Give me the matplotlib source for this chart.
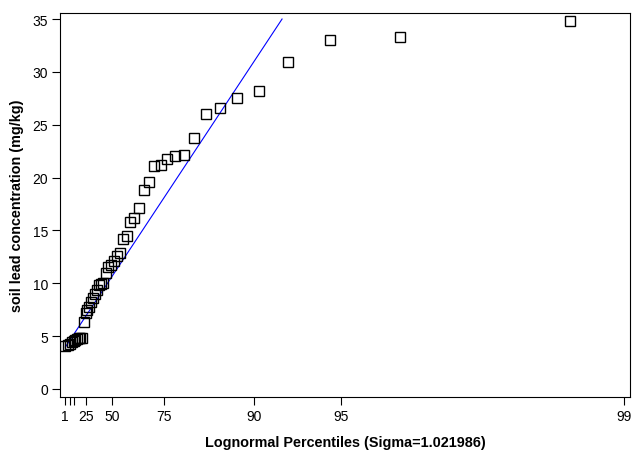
import numpy as np
import matplotlib
matplotlib.use("Agg")
import matplotlib.pyplot as plt
from statistics import NormalDist

# sorted soil lead concentrations (mg/kg)
lead = [4.1, 4.2, 4.3, 4.4, 4.5, 4.6, 4.7, 4.8, 4.8, 4.8,
        6.3, 7.2, 7.5, 7.8, 8.2, 8.6, 9.0, 9.4, 9.8, 9.9,
        10.0, 11.0, 11.5, 11.7, 12.1, 12.6, 12.9, 14.2, 14.5, 15.8,
        16.2, 17.1, 18.8, 19.6, 21.1, 21.2, 21.8, 22.0, 22.1, 23.7,
        26.0, 26.6, 27.5, 28.2, 30.9, 33.0, 33.3, 34.8]
sigma = 1.021986
theta = 3.2      # threshold of the fitted reference line
scale = 7.5      # exp(zeta) of the fitted reference line
tick_pct = [1, 5, 10, 25, 50, 75, 90, 95, 99]
tick_lbl = ['1', '', '', '25', '50', '75', '90', '95', '99']
y_ticks = [0, 5, 10, 15, 20, 25, 30, 35]

nd = NormalDist()
n = len(lead)
pp = [(i - 0.375) / (n + 0.25) for i in range(1, n + 1)]
xq = np.exp(sigma * np.array([nd.inv_cdf(p) for p in pp]))
xt = np.exp(sigma * np.array([nd.inv_cdf(p / 100) for p in tick_pct]))

plt.rcParams['font.family'] = ['Liberation Sans', 'DejaVu Sans']
fig = plt.figure(figsize=(6.4, 4.64), dpi=100)
ax = fig.add_axes([0.09375, 0.1422, 0.8903, 0.8276])

# reference line
x0 = xq[0]
x1 = (35 - theta) / scale
ax.plot([x0, x1], [theta + scale * x0, 35], color='blue', lw=0.8, zorder=2)

ax.plot(xq, lead, linestyle='none', marker='s', markersize=7, markerfacecolor='none',
        markeredgecolor='black', markeredgewidth=1.0, zorder=3)

ax.set_xlim(0, 10.88)
ax.set_ylim(-0.76, 35.57)
ax.set_xticks(xt)
ax.set_xticklabels(tick_lbl)
ax.set_yticks(y_ticks)
ax.tick_params(axis='both', direction='out', length=5.5, width=0.8, labelsize=10,
               colors='black', pad=3)
for s in ax.spines.values():
    s.set_linewidth(0.8)

ax.set_xlabel('Lognormal Percentiles (Sigma=1.021986)', fontsize=10.4, fontweight='bold', labelpad=9)
ax.set_ylabel('soil lead concentration (mg/kg)', fontsize=10.4, fontweight='bold', labelpad=6)

fig.savefig('out.png', dpi=100)
